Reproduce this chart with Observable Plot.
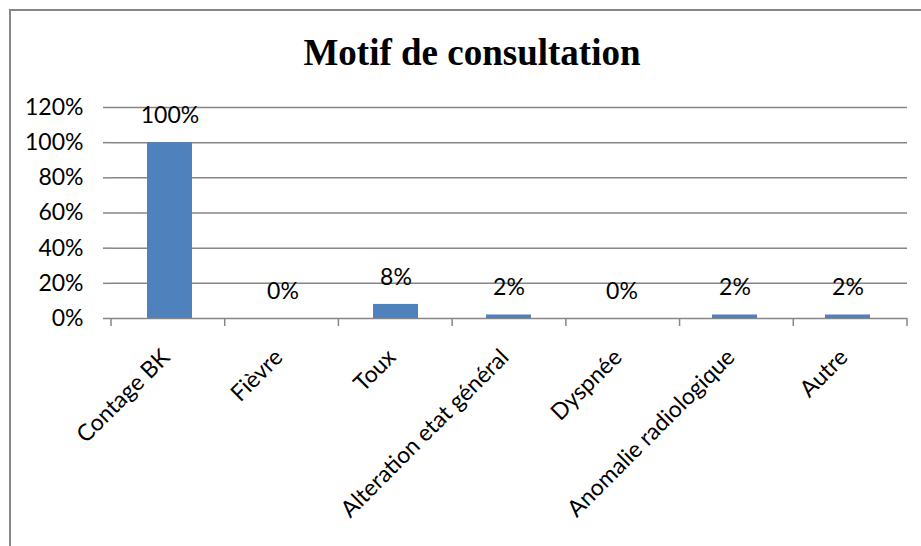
<!DOCTYPE html>
<html>
<head>
<meta charset="utf-8">
<script src="https://cdn.jsdelivr.net/npm/d3@7"></script>
<script src="https://cdn.jsdelivr.net/npm/@observablehq/plot@0.6"></script>
<style>
  html, body { margin: 0; padding: 0; background: #fff; overflow: hidden; }
  #wrap { position: relative; width: 921px; height: 546px; overflow: hidden; }
  #frame { position: absolute; left: 9px; top: 9px; width: 1000px; height: 1000px; border: 2px solid #878787; box-sizing: border-box; }
  #chart { position: absolute; left: 0; top: 0; }
</style>
</head>
<body>
<div id="wrap"><div id="frame"></div><div id="chart"></div></div>
<script>
const title = "Motif de consultation";
const categories = ["Contage BK", "Fièvre", "Toux", "Alteration etat général", "Dyspnée", "Anomalie radiologique", "Autre"];
const values = [1.00, 0.00, 0.08, 0.02, 0.00, 0.02, 0.02];
const yTicks = [0, 0.2, 0.4, 0.6, 0.8, 1.0, 1.2];

const data = categories.map((c, i) => ({category: c, value: values[i]}));
const pct = d3.format(".0%");
const font = "Lato, 'Open Sans', sans-serif";
const grey = "#868686";

const W = 921, H = 546;
const mL = 111, mR = 14, mT = 107, mB = 228;

const boundaryTicks = (index, scales, values, dims) => {
  const g = d3.create("svg:g");
  const n = categories.length;
  const x0 = dims.marginLeft, x1 = dims.width - dims.marginRight;
  const y0 = dims.height - dims.marginBottom;
  const step = (x1 - x0) / n;
  for (let i = 0; i <= n; i++) {
    g.append("line")
      .attr("x1", x0 + i * step).attr("x2", x0 + i * step)
      .attr("y1", y0).attr("y2", y0 + 8)
      .attr("stroke", grey).attr("stroke-width", 1.5);
  }
  return g.node();
};

const chart = Plot.plot({
  width: W,
  height: H,
  marginLeft: mL,
  marginRight: mR,
  marginTop: mT,
  marginBottom: mB,
  style: {fontFamily: font, fontSize: "23px", color: "#000", background: "transparent", overflow: "visible"},
  x: {type: "band", domain: categories, paddingInner: 0.6, paddingOuter: 0.3, axis: null},
  y: {domain: [0, 1.2], axis: null},
  marks: [
    Plot.ruleY(yTicks, {stroke: grey, strokeWidth: 1.5}),
    Plot.axisY({ticks: yTicks, tickFormat: pct, tickSize: 8, tickPadding: 20, stroke: grey, strokeWidth: 1.5, strokeOpacity: 1, fill: "#000", fontSize: 23, label: null}),
    Plot.ruleX([0], {frameAnchor: "left", y1: 0, y2: 1.2, stroke: grey, strokeWidth: 1.5}),
    boundaryTicks,
    Plot.barY(data, {x: "category", y: "value", fill: "#4F81BD"}),
    Plot.text(data, {x: "category", y: "value", text: d => pct(d.value), dy: -27, fontSize: 23, fill: "#000"}),
    Plot.text(data, {x: "category", frameAnchor: "bottom", text: "category", rotate: -45, textAnchor: "end", lineAnchor: "middle", dx: -4, dy: 35, fontSize: 23, fill: "#000"})
  ]
});

d3.select(chart).append("text")
  .attr("x", 472).attr("y", 65)
  .attr("text-anchor", "middle")
  .attr("font-family", "'Liberation Serif', 'Times New Roman', serif")
  .attr("font-weight", "bold")
  .attr("font-size", 37)
  .attr("fill", "#000")
  .text(title);

document.getElementById("chart").appendChild(chart);
</script>
</body>
</html>
